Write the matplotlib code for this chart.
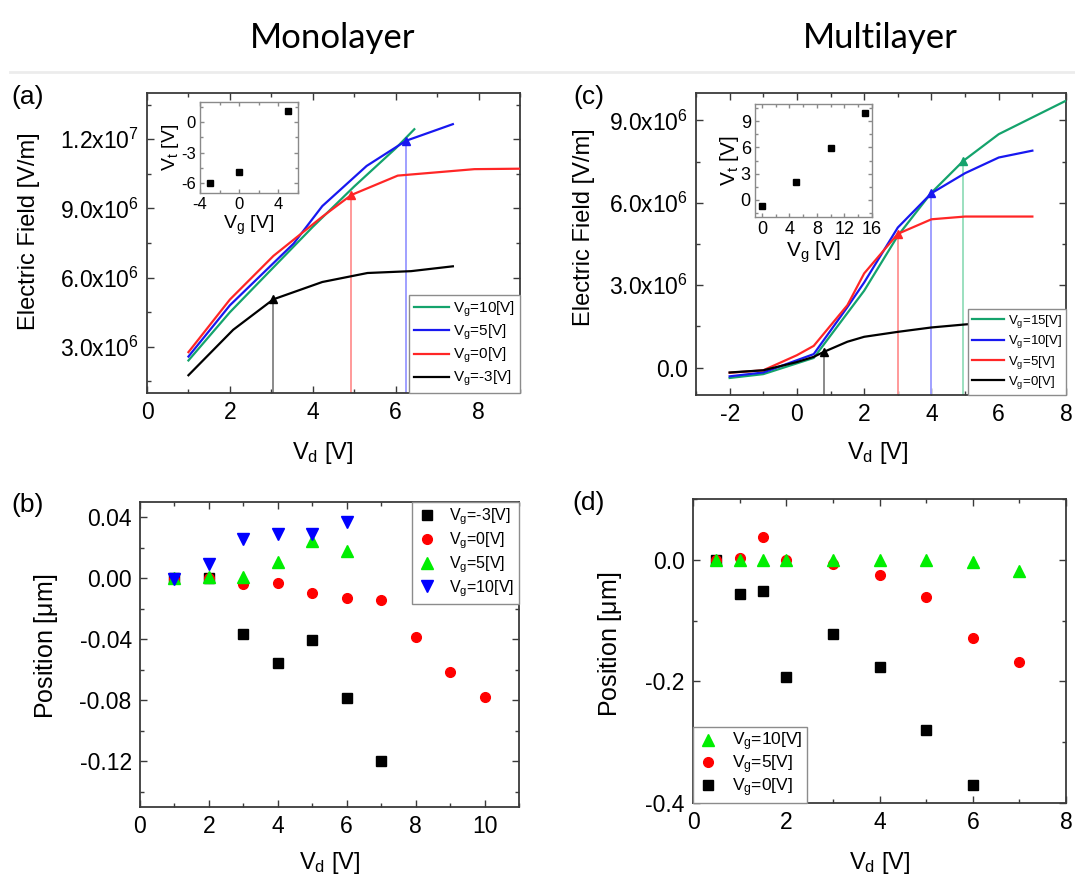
import numpy as np
import matplotlib
matplotlib.use("Agg")
import matplotlib.pyplot as plt
from matplotlib.ticker import MultipleLocator, FuncFormatter, FormatStrFormatter
from matplotlib.lines import Line2D

plt.rcParams['font.family'] = ['Liberation Sans', 'DejaVu Sans']
plt.rcParams['mathtext.default'] = 'regular'
plt.rcParams['axes.unicode_minus'] = False

# ---------------- data ----------------
# (a) Monolayer electric field vs Vd
mono_labels = ['V$_g$=10[V]', 'V$_g$=5[V]', 'V$_g$=0[V]', 'V$_g$=-3[V]']
mono_vd_g10 = [1, 2, 3, 4, 5, 6, 6.45]
mono_ef_g10 = [2.41e6, 4.5e6, 6.35e6, 8.2e6, 9.95e6, 11.6e6, 12.43e6]
mono_vd_g5 = [1, 2, 3.54, 4.23, 5.3, 6.25, 7.38]
mono_ef_g5 = [2.58e6, 4.8e6, 7.48e6, 9.1e6, 10.84e6, 11.93e6, 12.65e6]
mono_vd_g0 = [1, 2, 3.05, 4.23, 4.93, 6.05, 7.9, 9.0]
mono_ef_g0 = [2.77e6, 5.05e6, 6.94e6, 8.64e6, 9.58e6, 10.42e6, 10.7e6, 10.72e6]
mono_vd_gm3 = [1, 2.08, 3.05, 4.23, 5.32, 6.37, 7.38]
mono_ef_gm3 = [1.77e6, 3.74e6, 5.06e6, 5.81e6, 6.2e6, 6.28e6, 6.49e6]
mono_sat_vd = [3.05, 4.93, 6.25]
mono_sat_ef = [5.06e6, 9.58e6, 11.93e6]
# inset (a)
mono_inset_vg = [-3, 0, 5]
mono_inset_vt = [-6.06, -4.94, 1.1]

# (c) Multilayer electric field vs Vd
multi_labels = ['V$_g$=15[V]', 'V$_g$=10[V]', 'V$_g$=5[V]', 'V$_g$=0[V]']
multi_vd_g15 = [-2, -1, 0.5, 2, 3, 4, 4.95, 6, 8]
multi_ef_g15 = [-0.38e6, -0.24e6, 0.35e6, 2.8e6, 4.8e6, 6.37e6, 7.53e6, 8.5e6, 9.72e6]
multi_vd_g10 = [-2, -1, 0.5, 1.5, 2, 3, 4, 5, 6, 7]
multi_ef_g10 = [-0.32e6, -0.18e6, 0.49e6, 2.2e6, 3.1e6, 5.1e6, 6.35e6, 7.08e6, 7.65e6, 7.9e6]
multi_vd_g5 = [-2, -1, 0, 0.5, 1.5, 2, 3, 4, 5, 7]
multi_ef_g5 = [-0.19e6, -0.1e6, 0.45e6, 0.79e6, 2.27e6, 3.43e6, 4.87e6, 5.4e6, 5.5e6, 5.5e6]
multi_vd_g0 = [-2, -1, 0, 0.5, 0.8, 1.5, 2, 3, 4, 5, 7]
multi_ef_g0 = [-0.18e6, -0.1e6, 0.2e6, 0.39e6, 0.57e6, 0.94e6, 1.12e6, 1.3e6, 1.46e6, 1.57e6, 1.75e6]
multi_sat_vd = [0.8, 3.0, 4.0, 4.95]
multi_sat_ef = [0.57e6, 4.87e6, 6.35e6, 7.53e6]
# inset (c)
multi_inset_vg = [0, 5, 10, 15]
multi_inset_vt = [-0.77, 2.0, 5.96, 10.0]

# (b) Monolayer position vs Vd
b_vd_gm3 = [1, 2, 3, 4, 5, 6, 7]
b_pos_gm3 = [0.0, 0.0, -0.0365, -0.0557, -0.0404, -0.0787, -0.120]
b_vd_g0 = [1, 2, 3, 4, 5, 6, 7, 8, 9, 10]
b_pos_g0 = [-0.0007, 0.0, -0.0037, -0.0033, -0.0094, -0.0127, -0.0142, -0.0385, -0.0612, -0.0778]
b_vd_g5 = [1, 2, 3, 4, 5, 6]
b_pos_g5 = [0.0, 0.0007, 0.0007, 0.0105, 0.0247, 0.0181]
b_vd_g10 = [1, 2, 3, 4, 5, 6]
b_pos_g10 = [-0.0005, 0.0094, 0.0256, 0.0289, 0.0289, 0.0369]
b_labels = ['V$_g$=-3[V]', 'V$_g$=0[V]', 'V$_g$=5[V]', 'V$_g$=10[V]']

# (d) Multilayer position vs Vd
d_vd_g0 = [0.5, 1, 1.5, 2, 3, 4, 5, 6]
d_pos_g0 = [0.0, -0.057, -0.0505, -0.192, -0.122, -0.177, -0.280, -0.370]
d_vd_g5 = [0.5, 1, 1.5, 2, 3, 4, 5, 6, 7]
d_pos_g5 = [0.0, 0.003, 0.038, 0.0, -0.007, -0.0245, -0.061, -0.128, -0.168]
d_vd_g10 = [0.5, 1, 1.5, 2, 3, 4, 5, 6, 7]
d_pos_g10 = [0.0, 0.0, 0.0, 0.0, 0.0, 0.0, 0.0, -0.004, -0.019]
d_labels = ['V$_g$=10[V]', 'V$_g$=5[V]', 'V$_g$=0[V]']

# ---------------- styling ----------------
W, H = 1075, 884
fig = plt.figure(figsize=(W / 100, H / 100), dpi=100)


def rect(l, t, r, b):
    return [l / W, 1 - b / H, (r - l) / W, (b - t) / H]


SPINE = '#3a3a3a'
C_GREEN = '#14a36c'
C_BLUE = '#1818f0'
C_RED = '#ff2626'
C_BLACK = '#000000'
V_COLORS = {'k': '#8a8a8a', 'r': '#ff9a9a', 'b': '#a0a0ff', 'g': '#9be0bf'}
TICK_FS = 16.5
LAB_FS = 17


def style_axes(ax, fs=TICK_FS, spine=SPINE, lw=1.3, major=5, minor=3):
    for s in ax.spines.values():
        s.set_color(spine)
        s.set_linewidth(lw)
    ax.tick_params(which='both', direction='in', top=True, right=True,
                   colors=spine, labelcolor='black', labelsize=fs, width=1.0)
    ax.tick_params(which='major', length=major, pad=6)
    ax.tick_params(which='minor', length=minor)


def sci(v, pos):
    if abs(v) < 1e-9:
        return '0.0'
    e = int(np.floor(np.log10(abs(v)) + 1e-9))
    m = v / 10 ** e
    return f'{m:.1f}x10$^{{{e}}}$'


def legend_frame(leg):
    fr = leg.get_frame()
    fr.set_edgecolor('#8c8c8c')
    fr.set_linewidth(1.0)
    fr.set_facecolor('white')
    fr.set_alpha(1)


# separator line and titles
fig.add_artist(Line2D([10 / W, 1.0], [1 - 72 / H, 1 - 72 / H], color='#ececec', lw=2,
                      transform=fig.transFigure))
fig.text(333 / W, 1 - 38 / H, 'Monolayer', fontsize=25, family=['Lato', 'DejaVu Sans'],
         ha='center', va='center')
fig.text(880 / W, 1 - 38 / H, 'Multilayer', fontsize=25, family=['Lato', 'DejaVu Sans'],
         ha='center', va='center')

for txt, x, y in [('(a)', 28, 97), ('(c)', 589, 97), ('(b)', 28, 505), ('(d)', 589, 503)]:
    fig.text(x / W, 1 - y / H, txt, fontsize=19, ha='center', va='center')

# ---------------- (a) ----------------
axA = fig.add_axes(rect(147, 93, 520, 393))
style_axes(axA)
a_series = [(mono_vd_g10, mono_ef_g10, C_GREEN), (mono_vd_g5, mono_ef_g5, C_BLUE),
            (mono_vd_g0, mono_ef_g0, C_RED), (mono_vd_gm3, mono_ef_gm3, C_BLACK)]
for (x, y, c), lab in zip(a_series, mono_labels):
    axA.plot(x, y, color=c, lw=1.6, label=lab, zorder=3)
a_ylim = (1e6, 1.4e7)
for x, y, vc, mc in zip(mono_sat_vd, mono_sat_ef, ['k', 'r', 'b'], [C_BLACK, C_RED, C_BLUE]):
    axA.plot([x, x], [a_ylim[0], y], color=V_COLORS[vc], lw=1.4, zorder=2)
    axA.plot([x], [y], marker='^', color=mc, ms=6, zorder=4)
axA.set_xlim(0, 9)
axA.set_ylim(*a_ylim)
axA.xaxis.set_major_locator(MultipleLocator(2))
axA.xaxis.set_minor_locator(MultipleLocator(1))
axA.yaxis.set_major_locator(MultipleLocator(3e6))
axA.yaxis.set_minor_locator(MultipleLocator(1.5e6))
axA.yaxis.set_major_formatter(FuncFormatter(sci))
axA.set_ylabel('Electric Field [V/m]', fontsize=LAB_FS)
axA.yaxis.set_label_coords(-0.287, 0.54)
axA.set_xlabel('V$_d$ [V]', fontsize=LAB_FS)
axA.xaxis.set_label_coords(0.47, -0.155)
leg = axA.legend(loc='lower right', bbox_to_anchor=(1, 0), borderaxespad=0, fontsize=11,
                 handlelength=2.3, handletextpad=0.3, labelspacing=0.25, borderpad=0.3,
                 fancybox=False)
legend_frame(leg)

insA = fig.add_axes(rect(200, 102, 298, 193))
style_axes(insA, fs=12, spine='#8a8a8a', lw=1.0, major=3, minor=2)
insA.tick_params(which='major', pad=3)
insA.plot(mono_inset_vg, mono_inset_vt, 's', color='black', ms=4.5)
insA.set_xlim(-4, 6)
insA.set_ylim(-7, 2)
insA.xaxis.set_major_locator(MultipleLocator(4))
insA.xaxis.set_minor_locator(MultipleLocator(2))
insA.yaxis.set_major_locator(MultipleLocator(3))
insA.yaxis.set_minor_locator(MultipleLocator(1.5))
insA.set_xlabel('V$_g$ [V]', fontsize=14, labelpad=1)
insA.set_ylabel('V$_t$ [V]', fontsize=14, labelpad=0)

# ---------------- (c) ----------------
axC = fig.add_axes(rect(696, 93, 1066, 395))
style_axes(axC)
c_series = [(multi_vd_g15, multi_ef_g15, C_GREEN), (multi_vd_g10, multi_ef_g10, C_BLUE),
            (multi_vd_g5, multi_ef_g5, C_RED), (multi_vd_g0, multi_ef_g0, C_BLACK)]
for (x, y, c), lab in zip(c_series, multi_labels):
    axC.plot(x, y, color=c, lw=1.6, label=lab, zorder=3)
c_ylim = (-1e6, 1e7)
for x, y, vc, mc in zip(multi_sat_vd, multi_sat_ef, ['k', 'r', 'b', 'g'],
                        [C_BLACK, C_RED, C_BLUE, C_GREEN]):
    axC.plot([x, x], [c_ylim[0], y], color=V_COLORS[vc], lw=1.4, zorder=2)
    axC.plot([x], [y], marker='^', color=mc, ms=6, zorder=4)
axC.set_xlim(-3, 8)
axC.set_ylim(*c_ylim)
axC.xaxis.set_major_locator(MultipleLocator(2))
axC.xaxis.set_minor_locator(MultipleLocator(1))
axC.yaxis.set_major_locator(MultipleLocator(3e6))
axC.yaxis.set_minor_locator(MultipleLocator(1.5e6))
axC.yaxis.set_major_formatter(FuncFormatter(sci))
axC.set_ylabel('Electric Field [V/m]', fontsize=LAB_FS)
axC.yaxis.set_label_coords(-0.273, 0.555)
axC.set_xlabel('V$_d$ [V]', fontsize=LAB_FS)
axC.xaxis.set_label_coords(0.49, -0.15)
leg = axC.legend(loc='lower right', bbox_to_anchor=(1, 0), borderaxespad=0, fontsize=9.5,
                 handlelength=2.4, handletextpad=0.3, labelspacing=0.25, borderpad=0.3,
                 fancybox=False)
legend_frame(leg)

insC = fig.add_axes(rect(755, 104, 872, 217))
style_axes(insC, fs=13, spine='#8a8a8a', lw=1.0, major=3, minor=2)
insC.tick_params(which='major', pad=3)
insC.plot(multi_inset_vg, multi_inset_vt, 's', color='black', ms=5)
insC.set_xlim(-1, 16)
insC.set_ylim(-2, 11)
insC.xaxis.set_major_locator(MultipleLocator(4))
insC.xaxis.set_minor_locator(MultipleLocator(2))
insC.yaxis.set_major_locator(MultipleLocator(3))
insC.yaxis.set_minor_locator(MultipleLocator(1.5))
insC.set_xlabel('V$_g$ [V]', fontsize=15, labelpad=1)
insC.set_ylabel('V$_t$ [V]', fontsize=15, labelpad=0)

# ---------------- (b) ----------------
axB = fig.add_axes(rect(140, 502, 519, 807))
style_axes(axB)
axB.plot(b_vd_gm3, b_pos_gm3, 's', color='black', ms=6.5, label=b_labels[0], zorder=3)
axB.plot(b_vd_g0, b_pos_g0, 'o', color='#ff0000', ms=7, label=b_labels[1], zorder=4)
axB.plot(b_vd_g5, b_pos_g5, '^', color='#00ee00', ms=8, label=b_labels[2], zorder=5)
axB.plot(b_vd_g10, b_pos_g10, 'v', color='#0000ff', ms=8, label=b_labels[3], zorder=6)
axB.set_xlim(0, 11)
axB.set_ylim(-0.15, 0.05)
axB.xaxis.set_major_locator(MultipleLocator(2))
axB.xaxis.set_minor_locator(MultipleLocator(1))
axB.yaxis.set_major_locator(MultipleLocator(0.04))
axB.yaxis.set_minor_locator(MultipleLocator(0.02))
axB.yaxis.set_major_formatter(FormatStrFormatter('%.2f'))
axB.set_ylabel('Position [$\\mu$m]', fontsize=LAB_FS + 1)
axB.yaxis.set_label_coords(-0.211, 0.525)
axB.set_xlabel('V$_d$ [V]', fontsize=LAB_FS)
axB.xaxis.set_label_coords(0.5, -0.14)
leg = axB.legend(loc='upper right', bbox_to_anchor=(1, 1), borderaxespad=0, fontsize=11.5,
                 handlelength=1.2, handletextpad=0.8, labelspacing=0.2, borderpad=0.3,
                 fancybox=False)
legend_frame(leg)

# ---------------- (d) ----------------
axD = fig.add_axes(rect(693, 499, 1066, 803))
style_axes(axD)
axD.plot(d_vd_g0, d_pos_g0, 's', color='black', ms=6.5, label=d_labels[2], zorder=3)
axD.plot(d_vd_g5, d_pos_g5, 'o', color='#ff0000', ms=7, label=d_labels[1], zorder=4)
axD.plot(d_vd_g10, d_pos_g10, '^', color='#00ee00', ms=8, label=d_labels[0], zorder=5)
axD.set_xlim(0, 8)
axD.set_ylim(-0.4, 0.1)
axD.xaxis.set_major_locator(MultipleLocator(2))
axD.xaxis.set_minor_locator(MultipleLocator(1))
axD.yaxis.set_major_locator(MultipleLocator(0.2))
axD.yaxis.set_minor_locator(MultipleLocator(0.1))
axD.yaxis.set_major_formatter(FormatStrFormatter('%.1f'))
axD.set_ylabel('Position [$\\mu$m]', fontsize=LAB_FS + 1)
axD.yaxis.set_label_coords(-0.185, 0.523)
axD.set_xlabel('V$_d$ [V]', fontsize=LAB_FS)
axD.xaxis.set_label_coords(0.5, -0.155)
handles, labels = axD.get_legend_handles_labels()
leg = axD.legend(handles[::-1], labels[::-1], loc='lower left', bbox_to_anchor=(0, 0),
                 borderaxespad=0, fontsize=12.5, handlelength=1.2, handletextpad=0.8,
                 labelspacing=0.0, borderpad=0.25, fancybox=False)
legend_frame(leg)

fig.savefig('out.png', dpi=100)
